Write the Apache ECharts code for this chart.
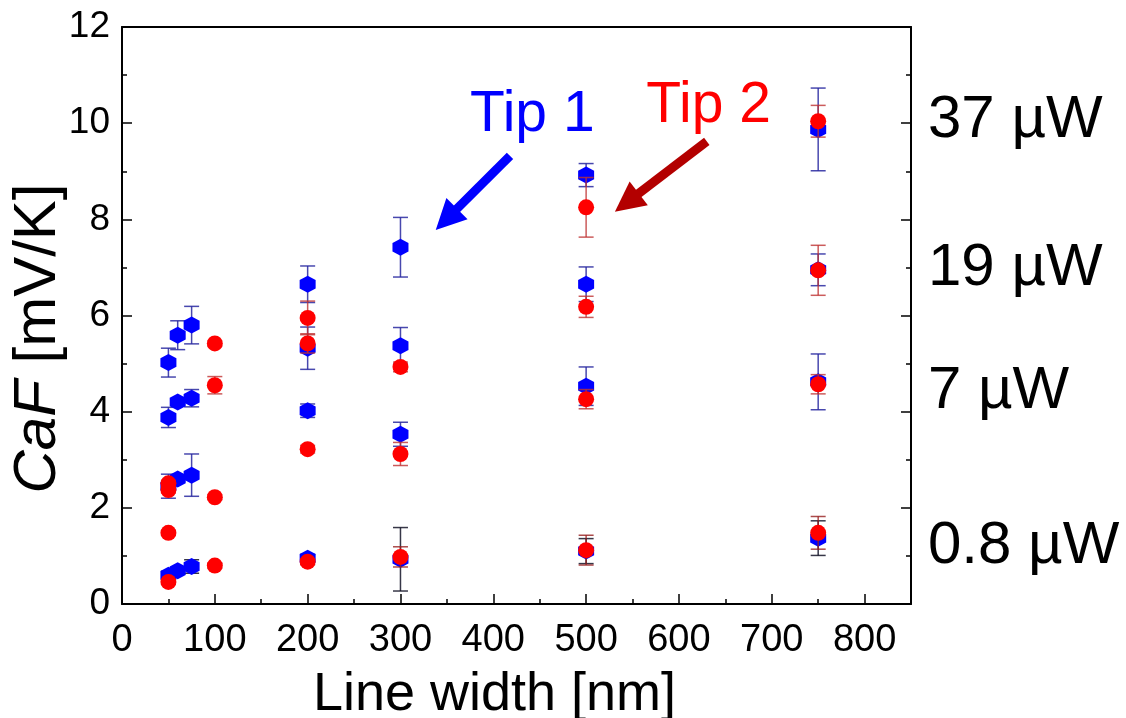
<!DOCTYPE html>
<html><head><meta charset="utf-8">
<script src="https://cdn.jsdelivr.net/npm/echarts@6/dist/echarts.min.js"></script>
<style>html,body{margin:0;padding:0;background:#fff}#c{width:1126px;height:718px}</style>
</head><body><div id="c"></div>
<script>
// ---- data ----
const tip1X   = [50, 60, 75, 200, 300, 500, 750,   50, 60, 75, 200, 300, 500, 750,   50, 60, 75, 200, 300, 500, 750,   50, 60, 75, 200, 300, 500, 750];
const tip1Y   = [0.60,0.69,0.78,0.95,0.93,1.10,1.37, 2.45,2.60,2.68,4.02,3.53,4.53,4.62, 3.88,4.20,4.28,5.32,5.37,6.65,6.95, 5.02,5.59,5.80,6.65,7.42,8.92,9.87];
const tip1Err = [0.08,0.06,0.14,0.08,0.66,0.26,0.36, 0.25,0.05,0.44,0.14,0.25,0.40,0.58, 0.21,0.05,0.18,0.44,0.38,0.36,0.33, 0.30,0.30,0.39,0.38,0.62,0.24,0.86];
const tip2X   = [50, 100, 200, 300, 500, 750,   50, 50, 50, 100, 200, 300, 500, 750,   100, 200, 300, 500, 750,   100, 200, 500, 750];
const tip2Y   = [0.46,0.80,0.88,0.98,1.12,1.48,  1.48,2.37,2.51,2.22,3.22,3.12,4.26,4.57,  4.55,5.42,4.93,6.18,6.94,  5.42,5.95,8.25,10.04];
const tip2Err = [0.05,0.05,0.06,0.21,0.31,0.34,  0.05,0.06,0.06,0.05,0.08,0.24,0.20,0.20,  0.18,0.20,0.10,0.22,0.52,  0.05,0.35,0.62,0.33];
const xTickLabels = ['0','100','200','300','400','500','600','700','800'];
const powerLabels = ['37 µW', '19 µW', '7 µW', '0.8 µW'];
const powerLabelY = [10.05, 6.97, 4.43, 1.20];
const tipLabels = ['Tip 1', 'Tip 2'];
const tipLabelPos = [[442, 10.16], [632, 10.36]];
const arrow1 = [[418, 9.32], [338, 7.78]];
const arrow2 = [[630, 9.62], [531, 8.16]];

const BLUE = '#0000ff', RED = '#ff0000';
const FONT = '"Liberation Sans", Arial, sans-serif';

function errSeries(xs, ys, es, colorFn, z) {
  return {
    type: 'custom', z: z, silent: true,
    data: xs.map((x, i) => [x, ys[i] - es[i], ys[i] + es[i], ys[i]]),
    encode: { x: 0, y: [1, 2] },
    renderItem: function (params, api) {
      const x = api.value(0), lo = api.value(1), hi = api.value(2), yv = api.value(3);
      const a = api.coord([x, lo]), b = api.coord([x, hi]);
      const hw = 7.5, c = colorFn(yv);
      const st = { stroke: c, lineWidth: 1.5 };
      return { type: 'group', children: [
        { type: 'line', shape: { x1: a[0], y1: a[1], x2: b[0], y2: b[1] }, style: st },
        { type: 'line', shape: { x1: a[0] - hw, y1: a[1], x2: a[0] + hw, y2: a[1] }, style: st },
        { type: 'line', shape: { x1: b[0] - hw, y1: b[1], x2: b[0] + hw, y2: b[1] }, style: st }
      ]};
    }
  };
}

const hexPath = 'path://M0,-10 L8.66,-5 L8.66,5 L0,10 L-8.66,5 L-8.66,-5 Z';

const chart = echarts.init(document.getElementById('c'), null, { renderer: 'canvas' });
const axisLine = { show: true, onZero: false, lineStyle: { color: '#000', width: 2 } };
const tick = { show: true, inside: true, length: 10, lineStyle: { color: '#000', width: 1.5 } };
const minor = { show: true, splitNumber: 2, length: 5, lineStyle: { color: '#000', width: 1.5 } };
const option = {
  backgroundColor: '#fff',
  animation: false,
  grid: { left: 122, right: 215, top: 27, bottom: 114, containLabel: false, outerBoundsMode: 'none' },
  xAxis: [{
    type: 'value', min: 0, max: 850, interval: 100, position: 'bottom',
    name: 'Line width [nm]', nameLocation: 'middle', nameGap: 64, nameMoveOverlap: false,
    nameTextStyle: { fontFamily: FONT, fontSize: 54, color: '#000', padding: [0, 44, 0, 0] },
    axisLine: axisLine, axisTick: tick, minorTick: minor,
    splitLine: { show: false },
    axisLabel: { fontFamily: FONT, fontSize: 38, color: '#000', margin: 18,
      formatter: v => (v % 100 === 0 && v <= 800) ? xTickLabels[v / 100] : '' }
  }, {
    type: 'value', min: 0, max: 850, interval: 100, position: 'top',
    axisLine: axisLine, axisTick: { show: false }, minorTick: { show: false },
    axisLabel: { show: false }, splitLine: { show: false }
  }],
  yAxis: [{
    type: 'value', min: 0, max: 12, interval: 2, position: 'left',
    name: '{i|CaF} [mV/K]', nameLocation: 'middle', nameGap: 54, nameMoveOverlap: false,
    nameTextStyle: { fontFamily: FONT, fontSize: 60, color: '#000', padding: [0, 46, 0, 0],
      rich: { i: { fontFamily: FONT, fontSize: 60, fontStyle: 'italic', color: '#000' } } },
    axisLine: axisLine, axisTick: tick, minorTick: minor,
    splitLine: { show: false },
    axisLabel: { fontFamily: FONT, fontSize: 37, color: '#000', margin: 12 }
  }, {
    type: 'value', min: 0, max: 12, interval: 2, position: 'right',
    axisLine: axisLine, axisTick: tick, minorTick: minor,
    splitLine: { show: false }, axisLabel: { show: false }
  }],
  series: [
    errSeries(tip1X, tip1Y, tip1Err, y => y < 2 ? 'rgba(20,20,40,0.85)' : 'rgba(40,40,160,0.85)', 2),
    { type: 'scatter', name: 'Tip 1', z: 3, symbol: hexPath, symbolSize: [16, 17], symbolKeepAspect: false,
      itemStyle: { color: BLUE, opacity: 1 }, data: tip1X.map((x, i) => [x, tip1Y[i]]) },
    errSeries(tip2X, tip2Y, tip2Err, y => y < 2 ? 'rgba(150,30,30,0.8)' : 'rgba(190,50,50,0.8)', 4),
    { type: 'scatter', name: 'Tip 2', z: 5, symbol: 'circle', symbolSize: 16,
      itemStyle: { color: RED, opacity: 1 }, data: tip2X.map((x, i) => [x, tip2Y[i]]) }
  ]
};
chart.setOption(option);

// ---- annotations placed through the axes ----
function px(p) { return chart.convertToPixel({ xAxisIndex: 0, yAxisIndex: 0 }, p); }
function arrow(seg, color, shaft, headLen, headW) {
  const from = px(seg[0]), to = px(seg[1]);
  const dx = to[0] - from[0], dy = to[1] - from[1];
  const L = Math.hypot(dx, dy), ux = dx / L, uy = dy / L, nx = -uy, ny = ux;
  const bx = to[0] - ux * headLen, by = to[1] - uy * headLen;
  return [
    { type: 'line', z: 10, shape: { x1: from[0], y1: from[1], x2: bx + ux * 2, y2: by + uy * 2 },
      style: { stroke: color, lineWidth: shaft } },
    { type: 'polygon', z: 10, shape: { points: [[to[0], to[1]], [bx + nx * headW / 2, by + ny * headW / 2], [bx - nx * headW / 2, by - ny * headW / 2]] },
      style: { fill: color } }
  ];
}
const graphics = [];
const xRight = px([850, 0])[0];
powerLabels.forEach((t, i) => {
  const p = px([850, powerLabelY[i]]);
  graphics.push({ type: 'text', x: xRight + 17, y: p[1], z: 10,
    style: { text: t, fontFamily: FONT, fontSize: 60, fill: '#000', align: 'left', verticalAlign: 'middle' } });
});
[BLUE, RED].forEach((c, i) => {
  const p = px(tipLabelPos[i]);
  graphics.push({ type: 'text', x: p[0], y: p[1], z: 10,
    style: { text: tipLabels[i], fontFamily: FONT, fontSize: 57, fill: c, align: 'center', verticalAlign: 'middle' } });
});
graphics.push(...arrow(arrow1, '#0000ff', 9, 30, 30));
graphics.push(...arrow(arrow2, '#b30000', 9, 30, 30));
chart.setOption({ graphic: graphics });
</script>
</body></html>
